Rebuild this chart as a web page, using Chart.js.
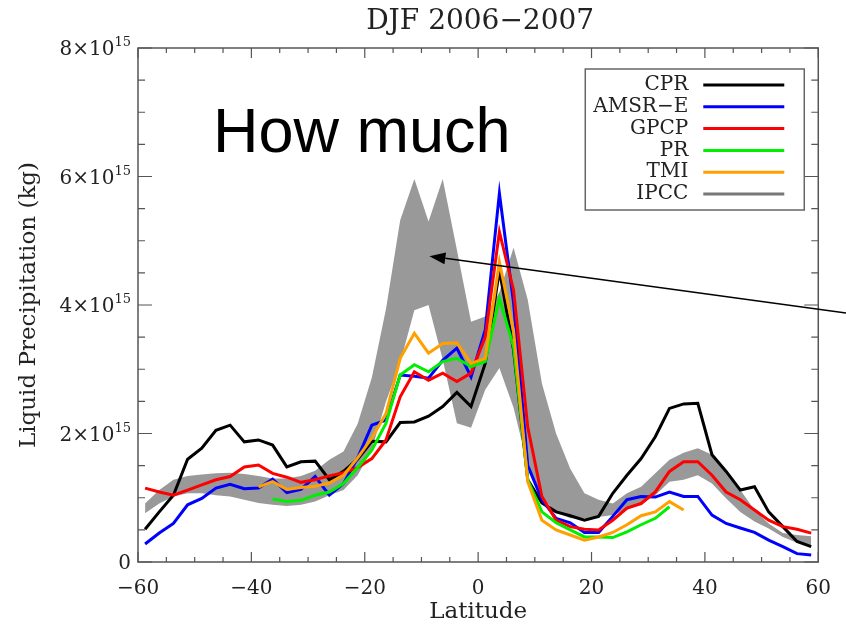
<!DOCTYPE html>
<html>
<head>
<meta charset="utf-8">
<title>DJF 2006-2007 liquid precipitation</title>
<script src="https://cdn.jsdelivr.net/npm/chart.js@4.4.1/dist/chart.umd.min.js"></script>
<style>
  html, body { margin: 0; padding: 0; background: #fff; }
  #wrap { position: relative; width: 846px; height: 628px; }
</style>
</head>
<body>
<div id="wrap"><canvas id="chart" width="846" height="628"></canvas></div>
<script>
// zonal bands, 2.5 degree centres
const latitudes = [
	-58.75, -56.25, -53.75, -51.25, -48.75, -46.25, -43.75, -41.25, -38.75, -36.25, -33.75, -31.25,
	-28.75, -26.25, -23.75, -21.25, -18.75, -16.25, -13.75, -11.25, -8.75, -6.25, -3.75, -1.25,
	1.25, 3.75, 6.25, 8.75, 11.25, 13.75, 16.25, 18.75, 21.25, 23.75, 26.25, 28.75,
	31.25, 33.75, 36.25, 38.75, 41.25, 43.75, 46.25, 48.75, 51.25, 53.75, 56.25, 58.75
];

// liquid precipitation, units of 10^15 kg
const cpr = [
	0.51, 0.78, 1.04, 1.60, 1.77, 2.05, 2.13, 1.87, 1.90, 1.82, 1.48, 1.56,
	1.57, 1.28, 1.41, 1.60, 1.88, 1.87, 2.17, 2.18, 2.27, 2.42, 2.64, 2.42,
	3.09, 4.54, 3.30, 1.28, 0.92, 0.78, 0.72, 0.65, 0.71, 1.07, 1.35, 1.61,
	1.95, 2.39, 2.46, 2.47, 1.67, 1.41, 1.12, 1.17, 0.78, 0.55, 0.32, 0.24
];
const amsre = [
	0.28, 0.45, 0.60, 0.89, 0.99, 1.15, 1.21, 1.14, 1.15, 1.29, 1.08, 1.13,
	1.33, 1.04, 1.22, 1.62, 2.13, 2.21, 2.91, 2.89, 2.86, 3.14, 3.33, 2.88,
	3.61, 5.74, 4.03, 1.50, 0.97, 0.68, 0.61, 0.46, 0.46, 0.71, 0.97, 1.02,
	1.01, 1.09, 1.02, 1.02, 0.73, 0.60, 0.53, 0.46, 0.34, 0.24, 0.13, 0.11
];
const gpcp = [
	1.15, 1.09, 1.04, 1.12, 1.20, 1.28, 1.33, 1.48, 1.51, 1.38, 1.32, 1.24,
	1.28, 1.34, 1.39, 1.47, 1.61, 1.90, 2.57, 2.96, 2.83, 2.94, 2.81, 2.94,
	3.50, 5.14, 4.23, 2.10, 1.02, 0.65, 0.55, 0.51, 0.50, 0.65, 0.84, 0.91,
	1.09, 1.41, 1.56, 1.56, 1.35, 1.09, 0.97, 0.81, 0.65, 0.55, 0.51, 0.45
];
const pr = [
	null, null, null, null, null, null, null, null, null, 0.98, 0.94, 0.96,
	1.04, 1.09, 1.22, 1.47, 1.74, 2.16, 2.91, 3.07, 2.96, 3.12, 3.17, 3.04,
	3.12, 4.10, 3.35, 1.28, 0.78, 0.61, 0.50, 0.39, 0.39, 0.38, 0.47, 0.58,
	0.68, 0.86, null, null, null, null, null, null, null, null, null, null
];
const tmi = [
	null, null, null, null, null, null, null, null, 1.17, 1.25, 1.13, 1.16,
	1.18, 1.23, 1.35, 1.62, 1.93, 2.31, 3.17, 3.56, 3.25, 3.40, 3.41, 3.09,
	3.17, 4.67, 3.60, 1.25, 0.65, 0.50, 0.42, 0.34, 0.39, 0.46, 0.58, 0.72,
	0.78, 0.94, 0.81, null, null, null, null, null, null, null, null, null
];
const ipccHigh = [
	0.91, 1.12, 1.28, 1.34, 1.36, 1.38, 1.39, 1.37, 1.34, 1.30, 1.30, 1.34,
	1.42, 1.59, 1.72, 2.15, 2.87, 3.94, 5.32, 5.96, 5.30, 5.96, 4.86, 3.74,
	3.82, 4.20, 4.89, 4.08, 2.78, 2.00, 1.45, 1.07, 0.97, 0.91, 1.07, 1.17,
	1.38, 1.59, 1.70, 1.77, 1.67, 1.40, 1.12, 0.81, 0.60, 0.45, 0.42, 0.40
];
const ipccLow = [
	0.76, 0.91, 1.02, 1.07, 1.07, 1.04, 1.02, 0.97, 0.92, 0.89, 0.87, 0.89,
	0.94, 1.04, 1.12, 1.35, 1.75, 2.50, 3.10, 3.92, 4.00, 3.15, 2.16, 2.09,
	2.68, 3.02, 2.40, 1.50, 1.00, 0.78, 0.68, 0.68, 0.70, 0.73, 0.81, 0.91,
	1.04, 1.25, 1.28, 1.35, 1.22, 0.99, 0.78, 0.63, 0.52, 0.39, 0.30, 0.25
];

const seriesNames = ["CPR", "AMSR\u2212E", "GPCP", "PR", "TMI", "IPCC"];
const seriesColors = ["#000000", "#0000ff", "#ff0000", "#00ee00", "#ffa000", "#777777"];
// y tick labels are mantissa x 10^15
const yTicks = [0, 2, 4, 6, 8];
const yTickBase = ["0", "2\u00d710", "4\u00d710", "6\u00d710", "8\u00d710"];
const yTickExp = ["", "15", "15", "15", "15"];

const SERIF = "\"DejaVu Serif\", serif";
const TEXT = "#222";

function points (values) {
	return latitudes.map((lat, i) => ({ x: lat, y: values[i] }));
}

function lineSet (label, values, color, order) {
	return {
		label: label,
		data: points(values),
		borderColor: color,
		borderWidth: 3,
		pointRadius: 0,
		fill: false,
		spanGaps: false,
		order: order
	};
}

// IDL style box: frame with inward ticks on all four sides
const framePlugin = {
	id: "frame",
	afterDatasetsDraw (chart) {
		const { ctx, chartArea: a, scales: { x, y } } = chart;
		ctx.save();
		ctx.strokeStyle = "#555";
		ctx.lineWidth = 1.5;
		ctx.strokeRect(a.left, a.top, a.right - a.left, a.bottom - a.top);
		ctx.lineWidth = 1.2;
		ctx.beginPath();
		for (let v = -60; v <= 60; v += 5) {
			const px = x.getPixelForValue(v);
			const len = v % 20 === 0 ? 10 : 5;
			ctx.moveTo(px, a.bottom);
			ctx.lineTo(px, a.bottom - len);
			ctx.moveTo(px, a.top);
			ctx.lineTo(px, a.top + len);
		}
		for (let v = 0; v <= 8; v += 0.5) {
			const py = y.getPixelForValue(v);
			const len = v % 2 === 0 ? 14 : 7;
			ctx.moveTo(a.left, py);
			ctx.lineTo(a.left + len, py);
			ctx.moveTo(a.right, py);
			ctx.lineTo(a.right - len, py);
		}
		ctx.stroke();

		// y tick labels with a real raised exponent
		ctx.fillStyle = TEXT;
		ctx.textBaseline = "alphabetic";
		ctx.textAlign = "left";
		yTicks.forEach((v, i) => {
			const py = y.getPixelForValue(v) + 7;
			ctx.font = `13px ${SERIF}`;
			const expW = yTickExp[i] ? ctx.measureText(yTickExp[i]).width : 0;
			ctx.font = `20px ${SERIF}`;
			const baseW = ctx.measureText(yTickBase[i]).width;
			const right = a.left - 7;
			ctx.fillText(yTickBase[i], right - expW - baseW, py);
			if (yTickExp[i]) {
				ctx.font = `13px ${SERIF}`;
				ctx.fillText(yTickExp[i], right - expW, py - 9);
			}
		});
		ctx.restore();
	}
};

const legendPlugin = {
	id: "boxLegend",
	afterDraw (chart) {
		const { ctx, chartArea: a } = chart;
		const left = a.right - 233;
		const top = a.top + 21;
		ctx.save();
		ctx.fillStyle = "#fff";
		ctx.fillRect(left, top, 219, 141);
		ctx.strokeStyle = "#666";
		ctx.lineWidth = 1.5;
		ctx.strokeRect(left, top, 219, 141);
		ctx.font = `20px ${SERIF}`;
		ctx.textAlign = "right";
		ctx.textBaseline = "middle";
		seriesNames.forEach((name, i) => {
			const rowY = top + 16 + i * 21.8;
			ctx.fillStyle = TEXT;
			ctx.fillText(name, left + 103, rowY);
			ctx.strokeStyle = seriesColors[i];
			ctx.lineWidth = 3;
			ctx.beginPath();
			ctx.moveTo(left + 118, rowY);
			ctx.lineTo(left + 199, rowY);
			ctx.stroke();
		});
		ctx.restore();
	}
};

// title centred over the plot box, plus the slide annotation
const overlayPlugin = {
	id: "overlay",
	afterDraw (chart) {
		const { ctx, chartArea: a, scales: { x, y } } = chart;
		ctx.save();
		ctx.fillStyle = TEXT;
		ctx.font = `28px ${SERIF}`;
		ctx.textAlign = "center";
		ctx.textBaseline = "middle";
		ctx.fillText("DJF 2006\u22122007", (a.left + a.right) / 2 + 2, 22);

		ctx.fillStyle = "#000";
		ctx.font = "63px \"Liberation Sans\", Arial, sans-serif";
		ctx.textAlign = "left";
		ctx.textBaseline = "alphabetic";
		ctx.fillText("How much", 213, 152);

		// arrow pointing into the IPCC spread
		const tipX = x.getPixelForValue(-8.6);
		const tipY = y.getPixelForValue(4.76);
		const tailX = chart.width;
		const tailY = 313;
		const ang = Math.atan2(tipY - tailY, tipX - tailX);
		const headLen = 16;
		const headHalf = 6;
		const baseX = tipX - headLen * Math.cos(ang);
		const baseY = tipY - headLen * Math.sin(ang);
		ctx.strokeStyle = "#000";
		ctx.lineWidth = 1.5;
		ctx.beginPath();
		ctx.moveTo(tailX, tailY);
		ctx.lineTo(baseX, baseY);
		ctx.stroke();
		ctx.beginPath();
		ctx.moveTo(tipX, tipY);
		ctx.lineTo(baseX + headHalf * Math.sin(ang), baseY - headHalf * Math.cos(ang));
		ctx.lineTo(baseX - headHalf * Math.sin(ang), baseY + headHalf * Math.cos(ang));
		ctx.closePath();
		ctx.fillStyle = "#000";
		ctx.fill();
		ctx.restore();
	}
};

new Chart(document.getElementById("chart"), {
	type: "line",
	data: {
		datasets: [
			lineSet(seriesNames[0], cpr, seriesColors[0], 5),
			lineSet(seriesNames[1], amsre, seriesColors[1], 4),
			lineSet(seriesNames[2], gpcp, seriesColors[2], 3),
			lineSet(seriesNames[3], pr, seriesColors[3], 2),
			lineSet(seriesNames[4], tmi, seriesColors[4], 1),
			{
				label: seriesNames[5],
				data: points(ipccHigh),
				borderWidth: 0,
				pointRadius: 0,
				backgroundColor: "#999999",
				fill: "+1",
				order: 10
			},
			{
				label: "IPCC low",
				data: points(ipccLow),
				borderWidth: 0,
				pointRadius: 0,
				fill: false,
				order: 11
			}
		]
	},
	options: {
		responsive: false,
		animation: false,
		devicePixelRatio: 1,
		layout: { padding: { left: 0, top: 48, right: 19, bottom: 0 } },
		plugins: {
			legend: { display: false },
			tooltip: { enabled: false }
		},
		scales: {
			x: {
				type: "linear",
				min: -60,
				max: 60,
				grid: { display: false, drawTicks: false },
				border: { display: false },
				ticks: {
					stepSize: 20,
					padding: 15,
					maxRotation: 0,
					color: TEXT,
					font: { family: SERIF, size: 20 },
					callback: (v) => String(v).replace("-", "\u2212")
				},
				title: {
					display: true,
					text: "Latitude",
					color: TEXT,
					font: { family: SERIF, size: 23 },
					padding: { top: 0, bottom: 2 }
				},
				afterFit: (s) => { s.height = 66; }
			},
			y: {
				min: 0,
				max: 8,
				grid: { display: false, drawTicks: false },
				border: { display: false },
				ticks: {
					stepSize: 2,
					display: false
				},
				title: {
					display: true,
					text: "Liquid Precipitation (kg)",
					color: TEXT,
					font: { family: SERIF, size: 23 },
					padding: { top: 15, bottom: 0 }
				},
				afterFit: (s) => { s.width = 138; }
			}
		}
	},
	plugins: [framePlugin, legendPlugin, overlayPlugin]
});
</script>
</body>
</html>
